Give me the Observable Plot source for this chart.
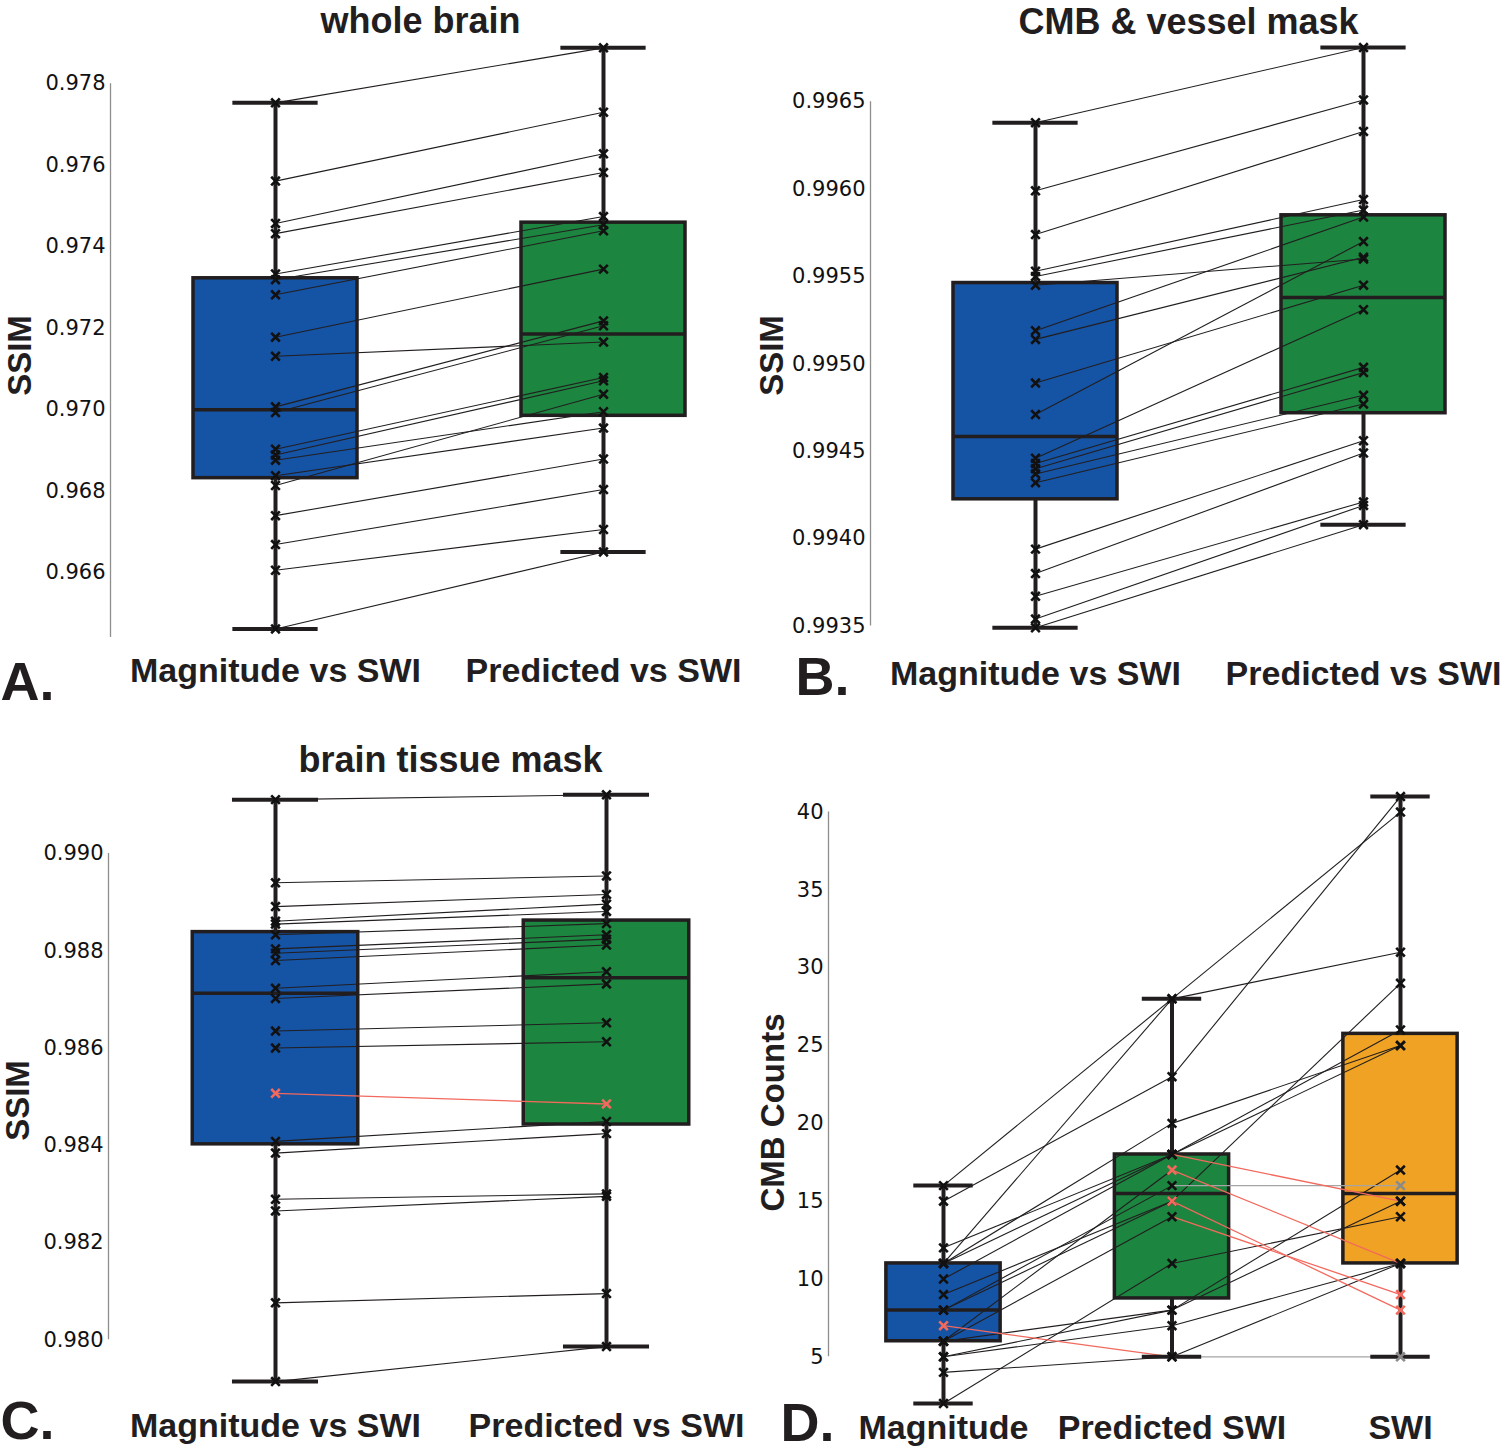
<!DOCTYPE html>
<html><head><meta charset="utf-8">
<script src="https://cdn.jsdelivr.net/npm/d3@7"></script>
<script src="https://cdn.jsdelivr.net/npm/@observablehq/plot@0.6"></script>
<style>
body{margin:0;background:#fff}
#fig{position:relative;width:1500px;height:1451px;background:#fff;overflow:hidden}
#fig > svg{position:absolute;overflow:visible}
</style></head><body><div id="fig"></div>
<script>
// ---------- categories / titles ----------
const ssimCategories = ["Magnitude vs SWI", "Predicted vs SWI"];
const cmbCategories = ["Magnitude", "Predicted SWI", "SWI"];
const panelTitles = ["whole brain", "CMB & vessel mask", "brain tissue mask", ""];
const panelLetters = ["A.", "B.", "C.", "D."];
const yLabels = ["SSIM", "SSIM", "SSIM", "CMB Counts"];

// ---------- tick values ----------
const ticksWhole = [0.966, 0.968, 0.970, 0.972, 0.974, 0.976, 0.978];
const ticksVessel = [0.9935, 0.9940, 0.9945, 0.9950, 0.9955, 0.9960, 0.9965];
const ticksTissue = [0.980, 0.982, 0.984, 0.986, 0.988, 0.990];
const ticksCMB = [5, 10, 15, 20, 25, 30, 35, 40];

// ---------- A: whole brain SSIM (one entry per subject, paired by index) ----------
const wholeMagnitude = [0.97753, 0.97561, 0.97457, 0.97432, 0.97333, 0.97319, 0.97282, 0.97178, 0.97131, 0.97007,
  0.96993, 0.96903, 0.96889, 0.96876, 0.96838, 0.96814, 0.96740, 0.96669, 0.96606, 0.96462];
const wholePredicted = [0.97888, 0.97730, 0.97628, 0.97582, 0.97474, 0.97454, 0.97439, 0.97345, 0.97166, 0.97218,
  0.97206, 0.97079, 0.97071, 0.96995, 0.96955, 0.97038, 0.96879, 0.96804, 0.96706, 0.96651];

// ---------- B: CMB & vessel mask SSIM ----------
const vesselMagnitude = [0.99638, 0.99599, 0.99574, 0.99553, 0.99550, 0.99545, 0.99519, 0.99514, 0.99489, 0.99471,
  0.99446, 0.99443, 0.99440, 0.99437, 0.99432, 0.99394, 0.99380, 0.99367, 0.99354, 0.99349];
const vesselPredicted = [0.99681, 0.99651, 0.99633, 0.99594, 0.99588, 0.99560, 0.99584, 0.99561, 0.99545, 0.99570,
  0.99531, 0.99498, 0.99495, 0.99482, 0.99477, 0.99456, 0.99449, 0.99421, 0.99419, 0.99408];

// ---------- C: brain tissue mask SSIM ----------
const tissueMagnitude = [0.99111, 0.98940, 0.98891, 0.98861, 0.98855, 0.98833, 0.98804, 0.98795, 0.98780, 0.98723,
  0.98702, 0.98635, 0.98600, 0.98507, 0.98408, 0.98384, 0.98289, 0.98265, 0.98076, 0.97914];
const tissuePredicted = [0.99121, 0.98954, 0.98916, 0.98896, 0.98881, 0.98856, 0.98833, 0.98824, 0.98812, 0.98757,
  0.98732, 0.98652, 0.98613, 0.98485, 0.98449, 0.98424, 0.98300, 0.98295, 0.98095, 0.97986];
const tissueHighlighted = [13];

// ---------- D: CMB counts ----------
const cmbMagnitude = [16, 11, 15, 11, 10, 12, 11, 6, 8, 9, 8, 6, 2, 5, 6, 5, 7, 4];
const cmbPredicted = [28, 28, 23, 20, 18, 18, 18, 17, 16, 15, 15, 14, 11, 8, 8, 7, 5, 5];
const cmbSWI       = [40, 31, 41, 25, 26, 25, 15, 11, 16, 29, 8, 9, 14, 17, 15, 11, 11, 5];
const cmbMagHighlighted = [16];
const cmbPredHighlighted = [7, 10];
const cmbSwiHighlighted = [10, 11];
const cmbSwiUnchanged = [8, 17];

// ---------- styling ----------
const BLUE = "#1553a5", GREEN = "#1c853f", ORANGE = "#efa224";
const INK = "#221e1f", RED = "#f2695d", GRAY = "#a5a5a5";
const LABEL_FONT = "Liberation Sans, Arial, Helvetica, sans-serif";

function boxStats(vals) {
  const s = vals.slice().sort(d3.ascending);
  const q1 = d3.quantile(s, 0.25), med = d3.quantile(s, 0.5), q3 = d3.quantile(s, 0.75);
  const iqr = q3 - q1;
  const hi = d3.max(s.filter(v => v <= q3 + 1.5 * iqr));
  const lo = d3.min(s.filter(v => v >= q1 - 1.5 * iqr));
  return {q1, med, q3, lo, hi};
}

function panel(cfg) {
  const groups = cfg.groups;
  const stats = groups.map((g, i) => ({i, ...boxStats(g)}));
  const segs = [];
  for (let k = 0; k < groups.length - 1; k++) {
    groups[k].forEach((a, s) => {
      const b = groups[k + 1][s];
      segs.push({x1: k, x2: k + 1, y1: a, y2: b, dir: b < a ? "down" : b > a ? "up" : "same"});
    });
  }
  const pts = [];
  groups.forEach((g, k) => g.forEach((v, s) => pts.push({x: k, y: v, flag: cfg.flag(k, s)})));

  const marks = [];
  marks.push(Plot.ruleX([cfg.xDomain[0]], {y1: cfg.spine[0], y2: cfg.spine[1], stroke: "#8e8e8e", strokeWidth: 1.3}));
  marks.push(Plot.axisY({ticks: cfg.ticks, tickFormat: d3.format(cfg.fmt), tickSize: 0, tickPadding: 5,
    fontSize: 21, fontFamily: "DejaVu Sans, sans-serif", fill: "#111", label: null}));
  stats.forEach(st => {
    marks.push(Plot.rect([st], {x1: d => d.i - 0.25, x2: d => d.i + 0.25, y1: "q1", y2: "q3",
      fill: cfg.fills[st.i], stroke: INK, strokeWidth: 3.5}));
  });
  marks.push(Plot.ruleY(stats, {y: "med", x1: d => d.i - 0.25, x2: d => d.i + 0.25, stroke: INK, strokeWidth: 3.5}));
  marks.push(Plot.link(segs.filter(d => d.dir === "up"), {x1: "x1", y1: "y1", x2: "x2", y2: "y2", stroke: INK, strokeWidth: 1.1}));
  marks.push(Plot.link(segs.filter(d => d.dir === "same"), {x1: "x1", y1: "y1", x2: "x2", y2: "y2", stroke: GRAY, strokeWidth: 1.3}));
  marks.push(Plot.link(segs.filter(d => d.dir === "down"), {x1: "x1", y1: "y1", x2: "x2", y2: "y2", stroke: RED, strokeWidth: 1.3}));
  marks.push(Plot.ruleX(stats, {x: "i", y1: "q3", y2: "hi", stroke: INK, strokeWidth: 4}));
  marks.push(Plot.ruleX(stats, {x: "i", y1: "q1", y2: "lo", stroke: INK, strokeWidth: 4}));
  marks.push(Plot.ruleY(stats, {y: "hi", x1: d => d.i - 0.13, x2: d => d.i + 0.13, stroke: INK, strokeWidth: 4}));
  marks.push(Plot.ruleY(stats, {y: "lo", x1: d => d.i - 0.13, x2: d => d.i + 0.13, stroke: INK, strokeWidth: 4}));
  marks.push(Plot.dot(pts.filter(d => d.flag === "base"), {x: "x", y: "y", symbol: "times", r: 4, stroke: "#111", strokeWidth: 2.6}));
  marks.push(Plot.dot(pts.filter(d => d.flag === "gray"), {x: "x", y: "y", symbol: "times", r: 4, stroke: "#8a8a8a", strokeWidth: 2.6}));
  marks.push(Plot.dot(pts.filter(d => d.flag === "red"), {x: "x", y: "y", symbol: "times", r: 4, stroke: RED, strokeWidth: 2.6}));

  // texts
  marks.push(Plot.text(cfg.cats, {x: (d, i) => i, text: d => d, frameAnchor: "bottom", lineAnchor: "middle", dy: cfg.catDy,
    fontSize: 34, fontWeight: "bold", fontFamily: LABEL_FONT, fill: INK}));
  if (cfg.title) marks.push(Plot.text([cfg.title], {frameAnchor: "top", lineAnchor: "middle", dx: cfg.titleDx, dy: cfg.titleDy,
    fontSize: 36, fontWeight: "bold", fontFamily: LABEL_FONT, fill: INK}));
  marks.push(Plot.text([cfg.letter], {frameAnchor: "bottom-left", textAnchor: "start", lineAnchor: "middle",
    dx: cfg.letterDx, dy: cfg.letterDy, fontSize: 54, fontWeight: "bold", fontFamily: LABEL_FONT, fill: INK}));
  marks.push(Plot.text([cfg.ylabel], {frameAnchor: "left", textAnchor: "middle", lineAnchor: "middle", rotate: -90,
    dx: cfg.ylabDx, dy: cfg.ylabDy, fontSize: 33, fontWeight: "bold", fontFamily: LABEL_FONT, fill: INK}));

  const svg = Plot.plot({
    width: cfg.width, height: cfg.height,
    marginLeft: cfg.m[0], marginRight: cfg.m[1], marginTop: cfg.m[2], marginBottom: cfg.m[3],
    x: {type: "linear", domain: cfg.xDomain, axis: null},
    y: {type: "linear", domain: cfg.yDomain, axis: null},
    style: {background: "transparent", overflow: "visible"},
    marks
  });
  svg.style.left = cfg.left + "px";
  svg.style.top = cfg.top + "px";
  document.getElementById("fig").appendChild(svg);
}

const allBase = () => "base";

panel({
  left: 0, top: 0, width: 750, height: 725, m: [110, 20, 26, 88],
  groups: [wholeMagnitude, wholePredicted], fills: [BLUE, GREEN], cats: ssimCategories,
  xDomain: [-165 / 328, 1 + 127 / 328], yDomain: [0.9644098, 0.9794037],
  ticks: ticksWhole, fmt: ".3f", spine: [0.978, 0.9644098], flag: allBase,
  title: panelTitles[0], titleDx: 0, titleDy: -5, catDy: 34,
  letter: panelLetters[0], letterDx: -110, letterDy: 45,
  ylabel: yLabels[0], ylabDx: -90, ylabDy: 23.5
});

panel({
  left: 750, top: 0, width: 750, height: 725, m: [120, 0, 26, 88],
  groups: [vesselMagnitude, vesselPredicted], fills: [BLUE, GREEN], cats: ssimCategories,
  xDomain: [-165 / 328, 1 + 137 / 328], yDomain: [0.9934343, 0.9969303],
  ticks: ticksVessel, fmt: ".4f", spine: [0.9965, 0.9935], flag: allBase,
  title: panelTitles[1], titleDx: 3, titleDy: -4, catDy: 37,
  letter: panelLetters[1], letterDx: -75, letterDy: 40,
  ylabel: yLabels[1], ylabDx: -98, ylabDy: 23.5
});

panel({
  left: 0, top: 725, width: 750, height: 726, m: [108, 20, 48, 65],
  groups: [tissueMagnitude, tissuePredicted], fills: [BLUE, GREEN], cats: ssimCategories,
  xDomain: [-167 / 331, 1 + 124 / 331], yDomain: [0.979039, 0.9916475],
  ticks: ticksTissue, fmt: ".3f", spine: [0.990, 0.980],
  flag: (k, s) => tissueHighlighted.includes(s) ? "red" : "base",
  title: panelTitles[2], titleDx: 31, titleDy: -13, catDy: 40,
  letter: panelLetters[2], letterDx: -108, letterDy: 35,
  ylabel: yLabels[2], ylabDx: -90, ylabDy: 20.5
});

panel({
  left: 750, top: 725, width: 750, height: 726, m: [78, 10, 48, 41],
  groups: [cmbMagnitude, cmbPredicted, cmbSWI], fills: [BLUE, GREEN, ORANGE], cats: cmbCategories,
  xDomain: [-115 / 228.5, 2 + 90 / 228.5], yDomain: [1.55, 42.48],
  ticks: ticksCMB, fmt: "d", spine: [40, 5],
  flag: (k, s) => {
    if (k === 0) return cmbMagHighlighted.includes(s) ? "red" : "base";
    if (k === 1) return cmbPredHighlighted.includes(s) ? "red" : "base";
    if (cmbSwiHighlighted.includes(s)) return "red";
    if (cmbSwiUnchanged.includes(s)) return "gray";
    return "base";
  },
  title: panelTitles[3], titleDx: 0, titleDy: 0, catDy: 18,
  letter: panelLetters[3], letterDx: -48, letterDy: 13,
  ylabel: yLabels[3], ylabDx: -55, ylabDy: 20.5
});
</script></body></html>
